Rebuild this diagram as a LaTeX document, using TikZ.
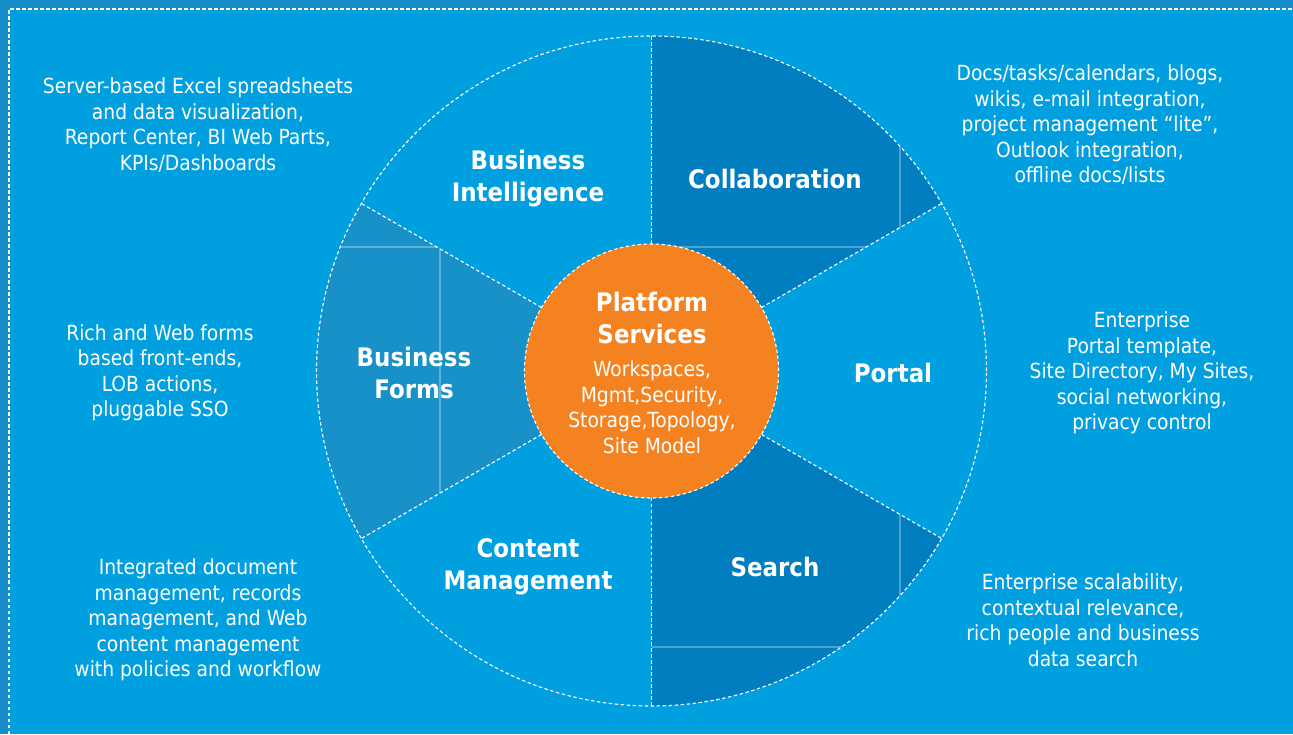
\documentclass[tikz,border=0pt]{standalone}
\usepackage{fontspec}
\setmainfont{DejaVu Sans Condensed}
\usepackage{tikz}
\usetikzlibrary{positioning}
\definecolor{bgblue}{RGB}{0,159,224}
\definecolor{edgeblue}{RGB}{22,140,200}
\definecolor{deepblue}{RGB}{0,126,192}
\definecolor{formsblue}{RGB}{24,144,200}
\definecolor{hubor}{RGB}{245,130,32}

\begin{document}
\begin{tikzpicture}[x=1pt,y=1pt,line join=bevel,
    divider/.style={draw=white,line width=1.1pt,dash pattern=on 3.5pt off 2.5pt},
    gridline/.style={draw=white,opacity=0.3,line width=2pt},
    sectortitle/.style={align=center,text=white,font=\fontsize{25.5}{32}\selectfont\bfseries},
    sectornote/.style={align=center,text=white,font=\fontsize{20.8}{25.5}\selectfont}]
            %
            \useasboundingbox (0,0) rectangle (1293,734);
            \fill[bgblue] (0,0) rectangle (1293,734);
            \fill[edgeblue] (0,725) rectangle (1293,734);
            \fill[edgeblue] (0,0) rectangle (9,725);
            \draw[divider] (9,0) -- (9,725) -- (1293,725);
            %
            \coordinate (hub) at (651.5,363);
            \begin{scope}[shift={(hub)}]
            \fill[deepblue] (0,0) -- (30:335) arc[start angle=30,end angle=90,radius=335] -- cycle;
            \fill[deepblue] (0,0) -- (-90:335) arc[start angle=-90,end angle=-30,radius=335] -- cycle;
            \fill[formsblue] (0,0) -- (150:335) arc[start angle=150,end angle=210,radius=335] -- cycle;
            % glass grid seen through the sectors
            \begin{scope}
            \clip (0,0) -- (30:335) arc[start angle=30,end angle=90,radius=335] -- cycle;
            \draw[gridline] (0,124) -- (335,124);
            \draw[gridline] (248.5,0) -- (248.5,335);
            \end{scope}
            \begin{scope}
            \clip (0,0) -- (-90:335) arc[start angle=-90,end angle=-30,radius=335] -- cycle;
            \draw[gridline] (0,-276) -- (335,-276);
            \draw[gridline] (248.5,0) -- (248.5,-335);
            \end{scope}
            \begin{scope}
            \clip (0,0) -- (150:335) arc[start angle=150,end angle=210,radius=335] -- cycle;
            \draw[gridline] (0,124) -- (-335,124);
            \draw[gridline] (-211.5,124) -- (-211.5,-124);
            \end{scope}
            %
            \draw[divider] (0,0) circle[radius=335];
            \foreach \a in {30,90,150,210,270,330}
                \draw[divider] (\a:127) -- (\a:335);
            \fill[hubor] (0,0) circle[radius=127];
            \draw[divider] (0,0) circle[radius=127];
            \end{scope}
            %
            \node[sectortitle] (platform) at (652,416) {Platform\\Services};
            \node[sectornote] (platformnote) at (652,327) {Workspaces,\\Mgmt,Security,\\Storage,Topology,\\Site Model};
            %
            \node[sectortitle] (intelligence) at (528,555) {Business\\Intelligence};
            \node[sectortitle] (collaboration) at (775,555) {Collaboration};
            \node[sectortitle] (portal) at (893,361) {Portal};
            \node[sectortitle] (search) at (775,167) {Search};
            \node[sectortitle] (content) at (528,167) {Content\\Management};
            \node[sectortitle] (forms) at (414,361) {Business\\Forms};
            %
            \node[sectornote] (intelligencenote) at (198,609) {Server-based Excel spreadsheets\\and data visualization,\\Report Center, BI Web Parts,\\KPIs/Dashboards};
            \node[sectornote] (collaborationnote) at (1090,609) {Docs/tasks/calendars, blogs,\\wikis, e-mail integration,\\project management “lite”,\\Outlook integration,\\offline docs/lists};
            \node[sectornote] (portalnote) at (1142,361) {Enterprise\\Portal template,\\Site Directory, My Sites,\\social networking,\\privacy control};
            \node[sectornote] (searchnote) at (1083,114) {Enterprise scalability,\\contextual relevance,\\rich people and business\\data search};
            \node[sectornote] (contentnote) at (198,114) {Integrated document\\management, records\\management, and Web\\content management\\with policies and workflow};
            \node[sectornote] (formsnote) at (160,361) {Rich and Web forms\\based front-ends,\\LOB actions,\\pluggable SSO};
            %
        \end{tikzpicture}
\end{document}
